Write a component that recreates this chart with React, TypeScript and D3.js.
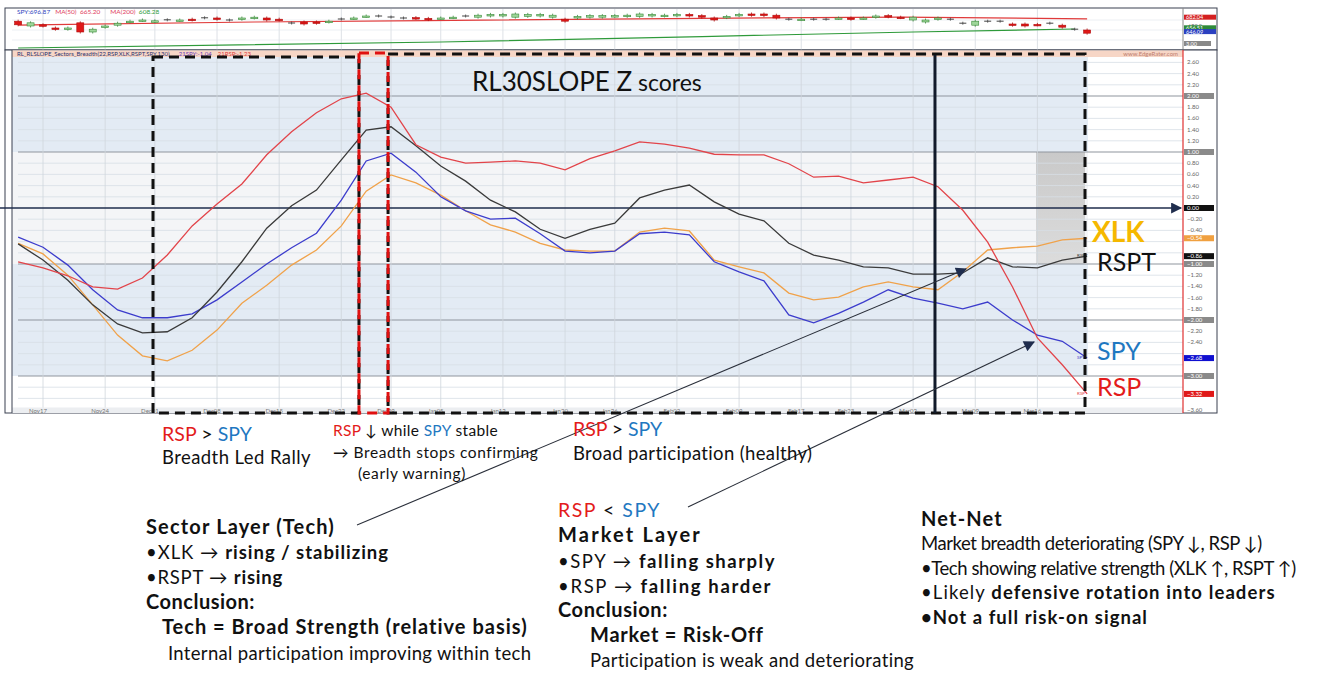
import { useEffect, useRef } from 'react';
import * as d3 from 'd3';

// trading-day index of each indicator sample (0 = Nov17)
const sampleDays = d3.range(-2, 85, 2);

const rspZ = [-0.96, -1.07, -1.21, -1.41, -1.45, -1.25, -0.84, -0.32, 0.07, 0.43,
  0.95, 1.36, 1.70, 1.95, 2.05, 1.80, 1.13, 0.91, 0.80, 0.82,
  0.84, 0.80, 0.68, 0.88, 1.02, 1.18, 1.14, 1.07, 0.96, 0.95,
  0.95, 0.79, 0.55, 0.57, 0.45, 0.50, 0.55, 0.38, -0.04, -0.61,
  -1.41, -2.32, -2.80, -3.32];
const spyZ = [-0.52, -0.70, -1.02, -1.46, -1.82, -1.96, -1.96, -1.89, -1.64, -1.32,
  -1.00, -0.71, -0.45, 0.14, 0.84, 0.98, 0.64, 0.20, -0.05, -0.20,
  -0.18, -0.46, -0.77, -0.80, -0.77, -0.46, -0.43, -0.48, -0.96, -1.14,
  -1.30, -1.91, -2.05, -1.88, -1.68, -1.46, -1.61, -1.70, -1.80, -1.68,
  -2.00, -2.27, -2.38, -2.68];
const rsptZ = [-0.64, -0.93, -1.29, -1.73, -2.07, -2.23, -2.21, -1.96, -1.50, -0.96,
  -0.36, 0.04, 0.32, 0.86, 1.39, 1.45, 1.11, 0.75, 0.48, 0.14,
  -0.07, -0.38, -0.54, -0.38, -0.27, 0.18, 0.32, 0.41, 0.11, -0.11,
  -0.23, -0.63, -0.84, -0.93, -1.05, -1.07, -1.18, -1.18, -1.16, -0.89,
  -1.05, -1.07, -0.93, -0.86];
const xlkZ = [-0.63, -0.82, -1.20, -1.73, -2.27, -2.64, -2.73, -2.54, -2.18, -1.70,
  -1.38, -1.02, -0.75, -0.32, 0.30, 0.59, 0.45, 0.23, -0.05, -0.30,
  -0.43, -0.63, -0.75, -0.77, -0.77, -0.43, -0.36, -0.41, -0.93, -1.05,
  -1.16, -1.52, -1.64, -1.59, -1.41, -1.32, -1.41, -1.46, -1.14, -0.75,
  -0.71, -0.68, -0.57, -0.54];

const tickLabels = ['Nov17', 'Nov24', 'Dec01', 'Dec08', 'Dec15', 'Dec22', 'Dec29', 'Jan05', 'Jan12',
  'Jan20', 'Jan26', 'Feb02', 'Feb09', 'Feb17', 'Feb23', 'Mar02', 'Mar09', 'Mar16'];
const tickDays = [0, 5, 9, 14, 19, 24, 28, 32, 37, 42, 46, 51, 56, 61, 65, 70, 75, 80];

// SPY daily candles, day -2 .. 84
const candleOpen = [672, 660, 663, 655, 652, 668, 645, 657, 662, 670, 674, 671, 675, 674, 677, 680, 680, 675,
  677, 680, 680, 677, 667, 670, 670, 670, 677, 679, 684, 685, 682, 680, 681, 679, 679, 681, 685, 682,
  685, 685, 682, 684, 685, 682, 677, 680, 682, 682, 684, 684, 684, 685, 685, 686, 689, 686, 680, 681,
  686, 690, 690, 687, 677, 676, 677, 677, 679, 680, 679, 682, 686, 682, 675, 670, 677, 677, 667, 662,
  672, 672, 665, 665, 664, 667, 662, 652, 650];
const candleClose = [663, 668, 660, 652, 655, 645, 652, 660, 667, 672, 675, 673, 675.5, 675, 675, 680.5, 677, 675,
  680, 682, 675, 675, 667.5, 665, 667, 672, 677.5, 680, 685, 684.5, 682.5, 680, 679, 676, 680, 682, 685, 687,
  689, 689, 690, 689, 689, 687, 672, 684, 686, 686, 686, 687, 690, 689, 687, 689, 685, 682, 675, 684,
  689, 687, 686, 680, 677, 677, 677, 677, 680, 677, 680, 685, 683, 681, 682, 675, 680, 677, 667, 672,
  672, 672, 662, 660, 663, 667, 657, 652, 642];
const ma50Days = [-2, 17, 33, 53, 69, 84];
const ma50 = [662, 670, 674, 679, 682, 678];
const ma200Days = [-2, 32, 70, 83];
const ma200 = [605, 620, 645, 652.5];

const FONT = 'Lato, "Open Sans", sans-serif';
const RED = '#e31b1b';
const BLUE = '#1f78c1';

type Part = [string, string?, boolean?];

// draws a line of mixed-colour text; when a target width is given the
// letter spacing is tuned so the line spans about that many pixels
function rich(g: any, x: number, y: number, size: number, parts: Part[], width?: number) {
  const t = g.append('text').attr('x', x).attr('y', y)
    .attr('font-family', FONT).attr('font-size', size).style('white-space', 'pre');
  parts.forEach(([s, c, b]) => {
    t.append('tspan').text(s).attr('fill', c || '#111').attr('font-weight', b ? 700 : 400);
  });
  if (width) {
    const node = t.node() as SVGTextElement;
    const w = node.getComputedTextLength();
    const n = parts.map((p) => p[0]).join('').length;
    if (w > 0 && n > 1) t.attr('letter-spacing', (width - w) / n);
  }
  return t;
}

function App() {
  const svgRef = useRef<SVGSVGElement>(null);

  useEffect(() => {
    if (svgRef.current === null) return;
    const svg = d3.select(svgRef.current);
    svg.selectAll('*').remove();

    const x = d3.scaleLinear().domain([0, 80]).range([43, 1037.4]);
    const y = d3.scaleLinear().domain([-3.6, 2.6]).range([409.6, 62.4]);
    const py = d3.scaleLinear().domain([600, 700]).range([50, 10]);

    const plotL = 12, plotR = 1183, frameR = 1217;
    const top = 57, bottom = 413;
    const bandR = 1088;

    const defs = svg.append('defs');
    defs.append('marker').attr('id', 'ah').attr('viewBox', '0 0 10 10')
      .attr('refX', 9).attr('refY', 5).attr('markerWidth', 14).attr('markerHeight', 11)
      .attr('markerUnits', 'userSpaceOnUse').attr('orient', 'auto')
      .append('path').attr('d', 'M0,0L10,5L0,10z').attr('fill', '#1f2d4d');
    const grad = defs.append('linearGradient').attr('id', 'gshade')
      .attr('x1', 0).attr('y1', 0).attr('x2', 0).attr('y2', 1);
    grad.append('stop').attr('offset', '0%').attr('stop-color', '#c9c9c9');
    grad.append('stop').attr('offset', '100%').attr('stop-color', '#dcdcdc');

    // ---------- price panel ----------
    const pp = svg.append('g');
    pp.append('rect').attr('x', 5).attr('y', 8).attr('width', frameR - 5).attr('height', 42)
      .attr('fill', '#fff').attr('stroke', '#3a4050').attr('stroke-width', 1);
    [675, 650, 625].forEach((p) => {
      pp.append('line').attr('x1', plotL).attr('x2', plotR).attr('y1', py(p)).attr('y2', py(p))
        .attr('stroke', '#eceff3');
    });
    tickDays.forEach((d) => {
      pp.append('line').attr('x1', x(d)).attr('x2', x(d)).attr('y1', 9).attr('y2', 50)
        .attr('stroke', '#dde1e6');
    });
    pp.append('line').attr('x1', plotR).attr('x2', plotR).attr('y1', 8).attr('y2', 50).attr('stroke', '#888');

    const maLine = d3.line<number>().curve(d3.curveMonotoneX);
    pp.append('path').attr('d', maLine(ma200Days.map((d, i) => [x(d), py(ma200[i])] as any)))
      .attr('fill', 'none').attr('stroke', '#2e9a3a').attr('stroke-width', 1.2);
    pp.append('path').attr('d', maLine(ma50Days.map((d, i) => [x(d), py(ma50[i])] as any)))
      .attr('fill', 'none').attr('stroke', '#e03a3a').attr('stroke-width', 1.2);

    candleOpen.forEach((o, i) => {
      const c = candleClose[i];
      const cx = x(i - 2);
      const y0 = py(Math.max(o, c)), y1 = py(Math.min(o, c));
      const up = c >= o;
      if (Math.abs(c - o) < 1) {
        pp.append('line').attr('x1', cx - 3.5).attr('x2', cx + 3.5).attr('y1', y0).attr('y2', y0)
          .attr('stroke', '#444').attr('stroke-width', 1);
        pp.append('line').attr('x1', cx).attr('x2', cx).attr('y1', y0 - 1.5).attr('y2', y0 + 1.5)
          .attr('stroke', '#444').attr('stroke-width', 0.8);
        return;
      }
      pp.append('line').attr('x1', cx).attr('x2', cx).attr('y1', y0 - 1.5).attr('y2', y1 + 1.5)
        .attr('stroke', up ? '#3a8a3a' : '#b01010').attr('stroke-width', 0.8);
      pp.append('rect').attr('x', cx - 3.5).attr('y', y0).attr('width', 7).attr('height', Math.max(1.5, y1 - y0))
        .attr('fill', up ? '#9ed69a' : '#e01818').attr('stroke', up ? '#3a8a3a' : '#b01010').attr('stroke-width', 0.6);
    });

    rich(pp, 17, 14, 6.5, [['SPY:696.87', '#3048c0'], ['   MA(50)  ', '#e04060'], ['665.20', '#e04060'],
      ['      MA(200)  ', '#e04060'], ['608.28', '#2e9a3a']]);

    const ptag = (yy: number, label: string, fill: string, w = 32) => {
      pp.append('rect').attr('x', plotR + 1).attr('y', yy - 2.5).attr('width', w).attr('height', 5).attr('fill', fill);
      pp.append('text').attr('x', plotR + 3).attr('y', yy + 2).attr('font-family', FONT).attr('font-size', 5.5)
        .attr('fill', '#fff').text(label);
    };
    ptag(py(682.04), '682.04', '#d42020');
    pp.append('text').attr('x', plotR + 5).attr('y', 28).attr('font-family', FONT).attr('font-size', 5.5)
      .attr('fill', '#555').text('680.0');
    ptag(py(655.5), '656.51', '#2e8a3a');
    ptag(py(646), '646.09', '#2a40c0');
    ptag(43.5, '3.00', '#888', 27);

    // ---------- indicator panel ----------
    const ip = svg.append('g');
    ip.append('rect').attr('x', 5).attr('y', 50).attr('width', frameR - 5).attr('height', bottom - 50)
      .attr('fill', '#fff').attr('stroke', '#3a4050').attr('stroke-width', 1);

    // header strip
    ip.append('rect').attr('x', plotL).attr('y', 50.5).attr('width', plotR - plotL).attr('height', 6.5)
      .attr('fill', '#f7d6c6');
    rich(ip, 17, 56, 6, [['RL_RLSLOPE_Sectors_Breadth(22,RSP,XLK,RSPT,SPY,130)', '#2a3470'],
      ['      21SPY:-1.04', '#6a3ab8'], ['    21RSP:-1.23', '#e03a3a']]);
    ip.append('text').attr('x', 1178).attr('y', 56).attr('text-anchor', 'end').attr('font-family', FONT)
      .attr('font-size', 6).attr('fill', '#c08070').text('www.EdgeRater.com');

    // bands
    const bands: [number, number, string][] = [[2.8, 1, '#e3ebf4'], [1, -1, '#f4f5f7'], [-1, -3, '#e3ebf4']];
    bands.forEach(([a, b, f]) => {
      const ya = Math.max(top, y(a));
      ip.append('rect').attr('x', plotL).attr('y', ya).attr('width', bandR - plotL).attr('height', y(b) - ya)
        .attr('fill', f);
    });
    ip.append('rect').attr('x', 1036).attr('y', y(1)).attr('width', 49).attr('height', y(-1) - y(1))
      .attr('fill', 'url(#gshade)');

    // grid
    const levels = d3.range(-18, 14).map((k) => k / 5);
    levels.forEach((v) => {
      if (Math.abs(v) < 1e-6) return;
      const major = Math.abs(v - Math.round(v)) < 1e-6;
      ip.append('line').attr('x1', 18).attr('x2', plotR).attr('y1', y(v)).attr('y2', y(v))
        .attr('stroke', major ? '#8f959d' : '#d8dee6').attr('stroke-width', major ? 1.2 : 0.8);
    });
    tickDays.forEach((d) => {
      ip.append('line').attr('x1', x(d)).attr('x2', x(d)).attr('y1', top).attr('y2', 408)
        .attr('stroke', '#cfd5dc').attr('stroke-width', 0.8);
    });

    // x axis strip
    ip.append('rect').attr('x', plotL).attr('y', 407.5).attr('width', plotR - plotL).attr('height', 5.5)
      .attr('fill', '#eceef1');
    ip.append('line').attr('x1', plotL).attr('x2', plotL).attr('y1', 50).attr('y2', bottom).attr('stroke', '#3a4050');
    tickDays.forEach((d, i) => {
      ip.append('text').attr('x', x(d) - 5).attr('y', 412.5).attr('text-anchor', 'middle')
        .attr('font-family', FONT).attr('font-size', 6).attr('fill', '#777').text(tickLabels[i]);
    });

    // right axis: current-value tags, plain labels where no tag sits
    ip.append('line').attr('x1', plotR).attr('x2', plotR).attr('y1', 50).attr('y2', bottom)
      .attr('stroke', '#e03030').attr('stroke-width', 1.2);
    const tags: [number, string][] = [
      [2, '#8a8a8a'], [1, '#8a8a8a'], [-1, '#8a8a8a'], [-2, '#8a8a8a'], [-3, '#8a8a8a'], [0, '#111'],
      [xlkZ[xlkZ.length - 1], '#f0a040'], [rsptZ[rsptZ.length - 1], '#111'],
      [spyZ[spyZ.length - 1], '#1010d0'], [rspZ[rspZ.length - 1], '#e01818'],
    ];
    levels.forEach((v) => {
      if (tags.some(([t]) => Math.abs(y(t) - y(v)) < 7)) return;
      ip.append('text').attr('x', plotR + 4).attr('y', y(v) + 2).attr('font-family', FONT)
        .attr('font-size', 6).attr('fill', '#666').text(d3.format('.2f')(v));
    });
    tags.forEach(([v, fill]) => {
      ip.append('rect').attr('x', plotR + 1).attr('y', y(v) - 3).attr('width', 30).attr('height', 6).attr('fill', fill);
      ip.append('text').attr('x', plotR + 4).attr('y', y(v) + 2).attr('font-family', FONT)
        .attr('font-size', 6).attr('fill', '#fff').text(d3.format('.2f')(v));
    });

    // zero line with arrow
    ip.append('line').attr('x1', 0).attr('x2', 1181).attr('y1', y(0)).attr('y2', y(0))
      .attr('stroke', '#1f2d4d').attr('stroke-width', 1.5).attr('marker-end', 'url(#ah)');

    // series
    const line = d3.line<number>().x((_, i) => x(sampleDays[i])).y((v) => y(v));
    const series: [number[], string, string][] = [
      [xlkZ, '#f0a24a', ''], [spyZ, '#3c3ccc', 'SPY'], [rsptZ, '#3a3a3a', 'RSPT'], [rspZ, '#e2444a', 'RSP'],
    ];
    series.forEach(([vals, col, lab]) => {
      ip.append('path').attr('d', line(vals)).attr('fill', 'none').attr('stroke', col).attr('stroke-width', 1.3);
      if (lab) {
        ip.append('text').attr('x', x(84) - 10).attr('y', y(vals[vals.length - 1]) + 1)
          .attr('font-family', FONT).attr('font-size', 4.5).attr('fill', col).text(lab);
      }
    });

    // annotation boxes
    const dashBox = (x0: number, x1: number, y0: number, col: string) => {
      ip.append('rect').attr('x', x0).attr('y', y0).attr('width', x1 - x0).attr('height', bottom - y0)
        .attr('fill', 'none').attr('stroke', col).attr('stroke-width', 3).attr('stroke-dasharray', '10,6');
    };
    dashBox(x(8.85), x(25.42), 57, '#111');
    dashBox(x(27.76), x(83.83), 54, '#111');
    dashBox(x(25.42), x(27.76), 53, '#e01010');
    ip.append('line').attr('x1', x(71.76)).attr('x2', x(71.76)).attr('y1', 55).attr('y2', bottom)
      .attr('stroke', '#111a2a').attr('stroke-width', 3);

    // title
    const title = rich(ip, 472, 91, 26, [['RL30SLOPE Z', '#111']]);
    title.append('tspan').text(' scores').attr('font-size', 23).attr('fill', '#111');

    // right big labels
    const big = (t: string, yy: number, col: string, size: number, bold = false, xx = 1097) => {
      svg.append('text').attr('x', xx).attr('y', yy).attr('font-family', FONT).attr('font-size', size)
        .attr('font-weight', bold ? 700 : 400).attr('fill', col).text(t);
    };
    big('XLK', 242, '#f5b800', 28, true, 1092);
    big('RSPT', 271, '#111', 25);
    big('SPY', 360, BLUE, 25);
    big('RSP', 396, RED, 25);

    // arrows
    const ann = svg.append('g');
    [[357, 525, 966, 269], [688, 507, 1034, 342]].forEach(([a, b, c, d]) => {
      ann.append('line').attr('x1', a).attr('y1', b).attr('x2', c).attr('y2', d)
        .attr('stroke', '#2a2f3a').attr('stroke-width', 1.1).attr('marker-end', 'url(#ah)');
    });

    // notes
    const R = 18.5, B = 20;
    rich(ann, 162, 441, 19.5, [['RSP', RED], [' > '], ['SPY', BLUE]], 90);
    rich(ann, 162, 464, R, [['Breadth Led Rally']], 149);
    rich(ann, 333, 436, 15.5, [['RSP', RED], [' ↓ while '], ['SPY', BLUE], [' stable']], 165);
    rich(ann, 333, 458, 15.5, [['→ Breadth stops confirming']], 205);
    rich(ann, 358, 479, 15.5, [['(early warning)']], 108);
    rich(ann, 573, 436, 19.5, [['RSP', RED], [' > '], ['SPY', BLUE]], 89);
    rich(ann, 573, 460, R, [['Broad participation (healthy)']], 240);

    rich(ann, 146, 534, B, [['Sector Layer (Tech)', '#111', true]], 189);
    rich(ann, 146, 559, R, [['•XLK → '], ['rising / stabilizing', '#111', true]], 243);
    rich(ann, 146, 584, R, [['•RSPT → '], ['rising', '#111', true]], 137);
    rich(ann, 146, 609, B, [['Conclusion:', '#111', true]], 109);
    rich(ann, 162, 634, B, [['Tech = Broad Strength (relative basis)', '#111', true]], 366);
    rich(ann, 168, 660, R, [['Internal participation improving within tech']], 364);

    rich(ann, 558, 517, 19.5, [['RSP', RED], [' < '], ['SPY', BLUE]], 103);
    rich(ann, 558, 542, B, [['Market Layer', '#111', true]], 144);
    rich(ann, 558, 568, R, [['•SPY → '], ['falling sharply', '#111', true]], 218);
    rich(ann, 558, 593, R, [['•RSP → '], ['falling harder', '#111', true]], 214);
    rich(ann, 558, 617, B, [['Conclusion:', '#111', true]], 110);
    rich(ann, 590, 642, B, [['Market = Risk-Off', '#111', true]], 173);
    rich(ann, 590, 667, R, [['Participation is weak and deteriorating']], 325);

    rich(ann, 921, 526, B, [['Net-Net', '#111', true]], 82);
    rich(ann, 921, 550, R, [['Market breadth deteriorating (SPY ↓, RSP ↓)']], 341);
    rich(ann, 921, 575, R, [['•Tech showing relative strength (XLK ↑, RSPT ↑)']], 375);
    rich(ann, 921, 599, R, [['•Likely '], ['defensive rotation into leaders', '#111', true]], 355);
    rich(ann, 921, 624, R, [['•Not a full risk-on signal', '#111', true]], 227);
  }, []);

  return (
    <div style={{ position: 'absolute', left: 0, top: 0, background: '#fff' }}>
      <svg ref={svgRef} width={1341} height={687} />
    </div>
  );
}

export default App;
